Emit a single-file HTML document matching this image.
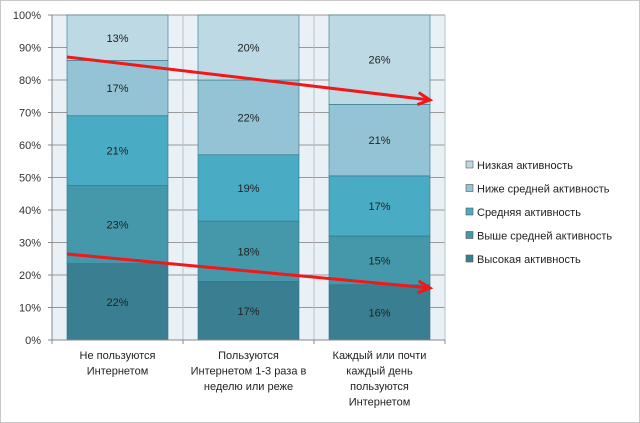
<!DOCTYPE html>
<html><head><meta charset="utf-8"><style>
body{margin:0;background:#fff}
svg{display:block;font-family:"Liberation Sans","DejaVu Sans",sans-serif}
</style></head><body>
<svg width="640" height="423" viewBox="0 0 640 423">
<rect x="0.5" y="0.5" width="639" height="422" fill="#fff" stroke="#c8c8c8"/>
<rect x="52" y="15" width="393" height="325" fill="#e9f0f6"/>
<g id="grid"></g><g id="bars"></g><g id="axis"></g><g id="legend"></g><g id="arrows"></g>
</svg>
<script>
const categories=[["Не пользуются","Интернетом"],["Пользуются","Интернетом  1-3 раза в","неделю  или реже"],["Каждый или почти","каждый день","пользуются","Интернетом"]];
const seriesNames=["Высокая активность","Выше средней  активность","Средняя  активность","Ниже средней  активность","Низкая активность"];
const high=[23.5,18,17];
const aboveAvg=[24,18.6,15];
const avg=[21.5,20.4,18.5];
const belowAvg=[17,23,22];
const low=[14,20,27.5];
const highLabels=["22%","17%","16%"];
const aboveLabels=["23%","18%","15%"];
const avgLabels=["21%","19%","17%"];
const belowLabels=["17%","22%","21%"];
const lowLabels=["13%","20%","26%"];
const yTicks=[0,10,20,30,40,50,60,70,80,90,100];
const colors=["#3a7f91","#4597aa","#4aabc5","#94c3d5","#bcd9e4"];
const NS="http://www.w3.org/2000/svg";
const x0=52,x1=445,y0=340,y1=15;
const yS=v=>y0-(v/100)*(y0-y1);
const bandW=(x1-x0)/categories.length;
const xS=i=>x0+bandW*i;
function mk(t,a,p){const e=document.createElementNS(NS,t);for(const k in a)e.setAttribute(k,a[k]);p.appendChild(e);return e;}
const grid=document.getElementById('grid');
yTicks.forEach(t=>{const l=mk('line',{x1:x0,x2:x1,y1:yS(t),y2:yS(t),stroke:'#9a9a9a','stroke-width':1},grid);

});
for(let i=1;i<=categories.length;i++){const l=mk('line',{x1:xS(i),x2:xS(i),y1:y1,y2:y0,stroke:'#b8c4cc'},grid);

}
const series=[high,aboveAvg,avg,belowAvg,low];
const labels=[highLabels,aboveLabels,avgLabels,belowLabels,lowLabels];
const bars=document.getElementById('bars');
const bw=101;
categories.forEach((c,i)=>{let cum=0;const bx=xS(i)+(bandW-bw)/2;
series.forEach((s,k)=>{const v=s[i];const yt=yS(cum+v),yb=yS(cum);
const r=mk('rect',{x:bx,y:yt,width:bw,height:yb-yt,fill:colors[k],stroke:'#2f7486','stroke-width':0.6},bars);


const tx=mk('text',{x:bx+bw/2,y:(yt+yb)/2+4,'text-anchor':'middle','font-size':11,fill:'#222'},bars);tx.textContent=labels[k][i];


cum+=v;});});
const ax=document.getElementById('axis');
const al=mk('line',{x1:x0,x2:x0,y1:y1,y2:y0+4,stroke:'#888'},ax);


const bl=mk('line',{x1:x0,x2:x1,y1:y0,y2:y0,stroke:'#888'},ax);


yTicks.forEach(t=>{const tk=mk('line',{x1:x0-4,x2:x0,y1:yS(t),y2:yS(t),stroke:'#888'},ax);


const tx=mk('text',{x:41,y:yS(t)+4,'text-anchor':'end','font-size':11,fill:'#333'},ax);tx.textContent=t+'%';

});
for(let i=0;i<=categories.length;i++){const tk=mk('line',{x1:xS(i),x2:xS(i),y1:y0,y2:y0+4,stroke:'#888'},ax);

}
categories.forEach((c,i)=>{c.forEach((ln,j)=>{const tx=mk('text',{x:xS(i)+bandW/2,y:359+j*15.5,'text-anchor':'middle','font-size':11,fill:'#222','xml:space':'preserve'},ax);tx.textContent=ln;

});});
const lg=document.getElementById('legend');
seriesNames.slice().reverse().forEach((n,j)=>{const k=4-j;const yy=165+j*23.5;
const r=mk('rect',{x:466,y:yy-4,width:7,height:7,fill:colors[k],stroke:'#555','stroke-width':0.6},lg);


const tx=mk('text',{x:477,y:yy+4,'font-size':11,fill:'#222','xml:space':'preserve'},lg);tx.textContent=n;

});
const ar=document.getElementById('arrows');
[[67,57,430,100],[67,254,430,288]].forEach(a=>{const l=mk('line',{x1:a[0],y1:a[1],x2:a[2],y2:a[3],stroke:'#f01818','stroke-width':3},ar);


const dx=a[2]-a[0],dy=a[3]-a[1],L=Math.hypot(dx,dy),ux=dx/L,uy=dy/L;
const p=mk('polyline',{points:`${a[2]-12*ux-6*uy},${a[3]-12*uy+6*ux} ${a[2]},${a[3]} ${a[2]-12*ux+6*uy},${a[3]-12*uy-6*ux}`,fill:'none',stroke:'#f01818','stroke-width':3},ar);

});
</script>
</body></html>
